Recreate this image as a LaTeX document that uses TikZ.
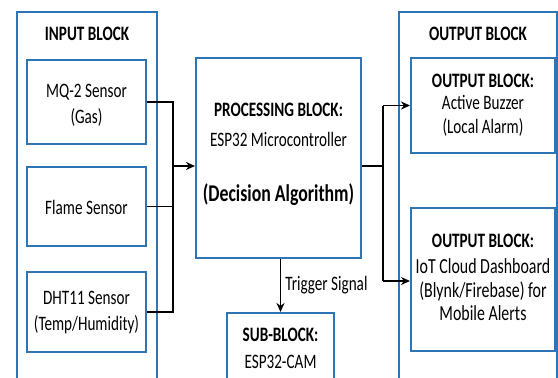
\documentclass[tikz,border=0pt]{standalone}
\usepackage{fontspec}
\setmainfont[FakeStretch=0.74]{Carlito}
\usetikzlibrary{arrows.meta,calc}
\definecolor{boxblue}{RGB}{46,117,182}
\begin{document}
\begin{tikzpicture}[x=1pt,y=-1pt,
  blk/.style={draw=boxblue,line width=2pt,fill=white,inner sep=0pt},
  txt/.style={font=\fontsize{20.5}{26}\selectfont,align=center,inner sep=0pt},
  ttl/.style={font=\fontsize{20.5}{26}\selectfont\bfseries,align=center,inner sep=0pt},
  wire/.style={draw=black,line width=1.8pt},
  arr/.style={wire,-{Stealth[length=9pt,width=8pt]}}]
\useasboundingbox (0,0) rectangle (558,378);
\clip (0,0) rectangle (558,378);
% outer blocks
\node[blk,minimum width=140pt,minimum height=383pt] (inblk) at (87,203.5) {};
\node[blk,minimum width=158pt,minimum height=383pt] (outblk) at (478,203.5) {};
\node[ttl] (intitle) at (87,34) {INPUT BLOCK};
\node[ttl] (outtitle) at (478,34) {OUTPUT BLOCK};
% sensors
\node[blk,minimum width=119pt,minimum height=84pt] (mq) at (86.5,102) {};
\node[txt] (mqt) at (86.5,105) {MQ-2 Sensor\\(Gas)};
\node[blk,minimum width=119pt,minimum height=79pt] (fl) at (86.5,206.5) {};
\node[txt] (flt) at (86.5,207) {Flame Sensor};
\node[blk,minimum width=119pt,minimum height=80pt] (dht) at (86.5,312) {};
\node[txt] (dhtt) at (86.5,312) {DHT11 Sensor\\(Temp/Humidity)};
% processing
\node[blk,minimum width=165pt,minimum height=200pt] (proc) at (278.5,158) {};
\node[ttl] (proct) at (278.5,110) {PROCESSING BLOCK:};
\node[txt] (procs) at (278.5,139) {ESP32 Microcontroller};
\node[ttl,font=\fontsize{24}{28}\selectfont\bfseries] (procd) at (278.5,195) {(Decision Algorithm)};
% sub-block
\node[blk,minimum width=107pt,minimum height=82pt] (sub) at (280.5,354) {};
\node[ttl] (subt) at (280.5,335) {SUB-BLOCK:};
\node[txt] (subs) at (280.5,362) {ESP32-CAM};
% outputs
\node[blk,minimum width=144pt,minimum height=95pt] (o1) at (483,105.5) {};
\node[ttl] (o1t) at (483,81) {OUTPUT BLOCK:};
\node[txt,font=\fontsize{20.5}{24}\selectfont] (o1s) at (483,116) {Active Buzzer\\(Local Alarm)};
\node[blk,minimum width=144pt,minimum height=143pt] (o2) at (483,279.5) {};
\node[ttl] (o2t) at (483,241) {OUTPUT BLOCK:};
\node[txt,font=\fontsize{21.5}{23.5}\selectfont] (o2s) at (483,290) {IoT Cloud Dashboard\\(Blynk/Firebase) for\\Mobile Alerts};
% input wiring
\coordinate (jin) at (173,166);
\coordinate (jtop) at (173,102);
\coordinate (jbot) at (173,312);
\draw[wire] (mq.east) -- (jtop) -- (jbot) -- (dht.east);
\draw[wire] (fl.east) -- (fl.east -| jin);
\draw[arr] (jin) -- (jin -| proc.west);
% output wiring
\coordinate (jout) at (383,166);
\coordinate (jo1) at (383,105.5);
\coordinate (jo2) at (383,281);
\draw[wire] (proc.east |- jout) -- (jout);
\draw[wire] (jo1) -- (jo2);
\draw[arr] (jo1) -- (o1.west);
\draw[arr] (jo2) -- (jo2 -| o2.west);
% trigger
\draw[arr] (proc.south -| sub.north) -- (sub.north) node[midway,right=4pt,txt] (trig) {Trigger Signal};
\end{tikzpicture}
\end{document}
